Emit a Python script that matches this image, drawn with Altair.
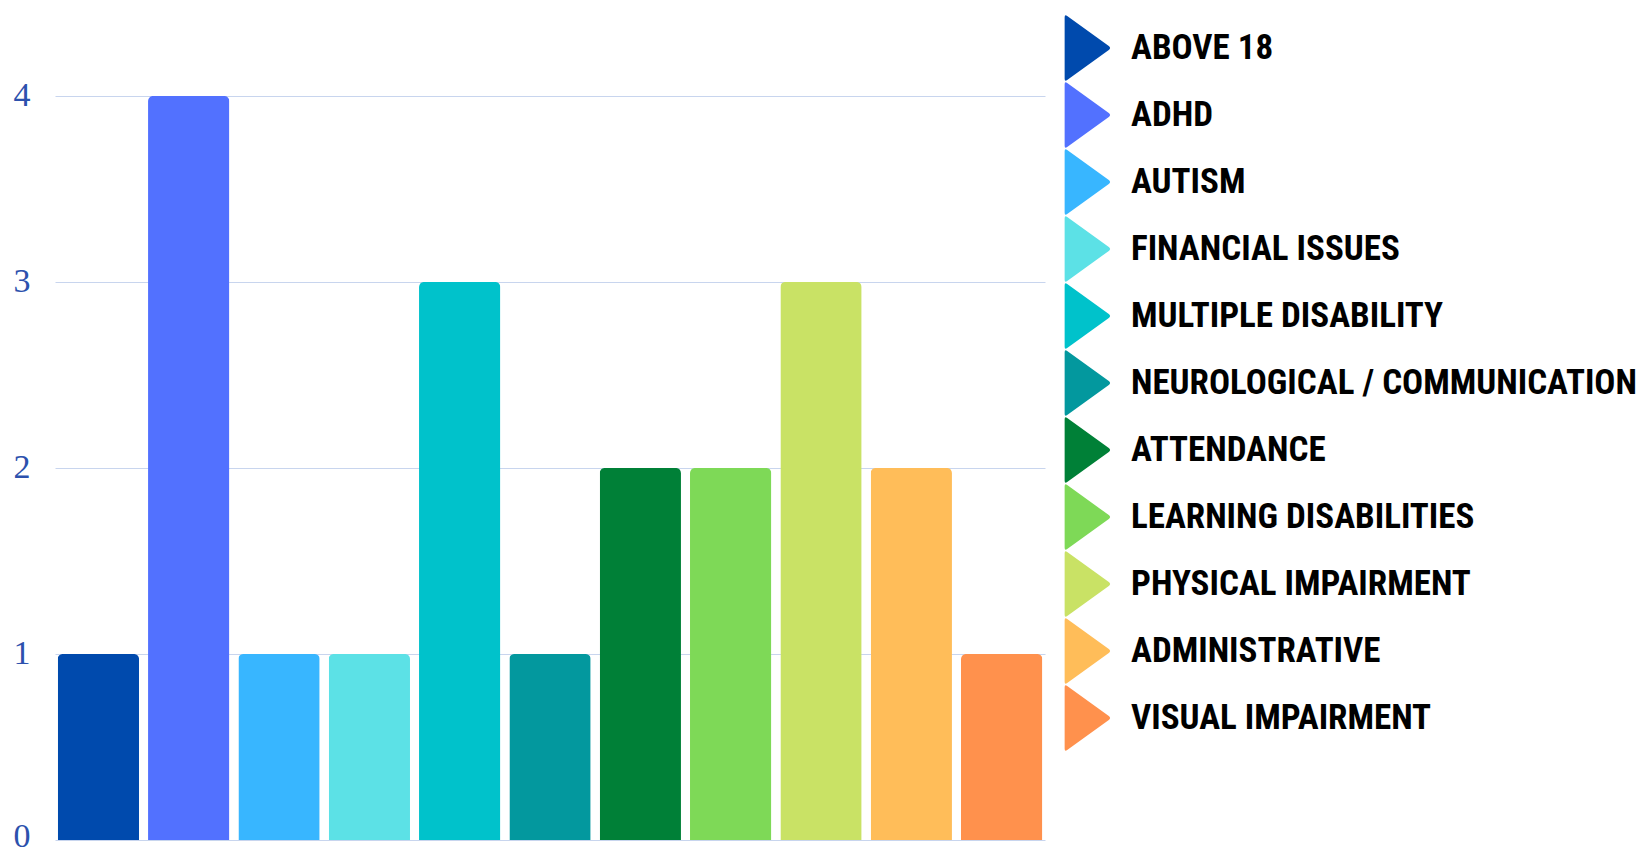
import altair as alt
import pandas as pd

categories = ["ABOVE 18", "ADHD", "AUTISM", "FINANCIAL ISSUES", "MULTIPLE DISABILITY",
              "NEUROLOGICAL / COMMUNICATION", "ATTENDANCE", "LEARNING DISABILITIES",
              "PHYSICAL IMPAIRMENT", "ADMINISTRATIVE", "VISUAL IMPAIRMENT"]
counts = [1, 4, 1, 1, 3, 1, 2, 2, 3, 2, 1]
colors = ["#004aad", "#5271ff", "#38b6ff", "#5ce1e6", "#00c2cb", "#03989e",
          "#008037", "#7ed957", "#c9e265", "#ffbd59", "#ff914d"]
y_ticks = [0, 1, 2, 3, 4]

df = pd.DataFrame({"category": categories, "count": counts})

tri = ("M-0.73,-0.96 Q-0.73,-1.06 -0.65,-1.0 L0.65,-0.06 Q0.73,0 0.65,0.06 "
       "L-0.65,1.0 Q-0.73,1.06 -0.73,0.96 Z")

chart = alt.Chart(df).mark_bar(
    cornerRadiusTopLeft=5, cornerRadiusTopRight=5
).encode(
    x=alt.X("category:N", sort=categories, axis=None,
            scale=alt.Scale(paddingInner=0.1, paddingOuter=0.03)),
    y=alt.Y("count:Q",
            scale=alt.Scale(domain=[0, 4.446], nice=False, zero=True),
            axis=alt.Axis(values=y_ticks, title=None, domain=False, ticks=False,
                          grid=True, gridColor="#c8d5ee", gridWidth=1,
                          labelFont="Liberation Serif", labelFontSize=34,
                          labelColor="#2c51ad", labelPadding=25,
                          labelBaseline="middle",
                          labelOffset=alt.condition("datum.value == 0",
                                                    alt.value(-4), alt.value(0)))),
    color=alt.Color("category:N", sort=categories,
                    scale=alt.Scale(domain=categories, range=colors),
                    legend=alt.Legend(title=None, orient="none",
                                      legendX=1001, legendY=3,
                                      symbolType=tri, symbolSize=4096,
                                      symbolStrokeWidth=0, symbolOpacity=1,
                                      labelFont="Roboto Condensed, Liberation Sans Narrow, DejaVu Sans Condensed, sans-serif",
                                      labelFontSize=35, labelFontWeight="bold",
                                      labelColor="#000000", labelOffset=11,
                                      labelLimit=800, rowPadding=1,
                                      padding=0)),
).properties(
    width=990, height=827,
    padding={"left": 5, "top": 5, "right": 0, "bottom": 5}
).configure_view(
    stroke=None
)

chart.save("out.html", embed_options={"renderer": "svg", "actions": False})
